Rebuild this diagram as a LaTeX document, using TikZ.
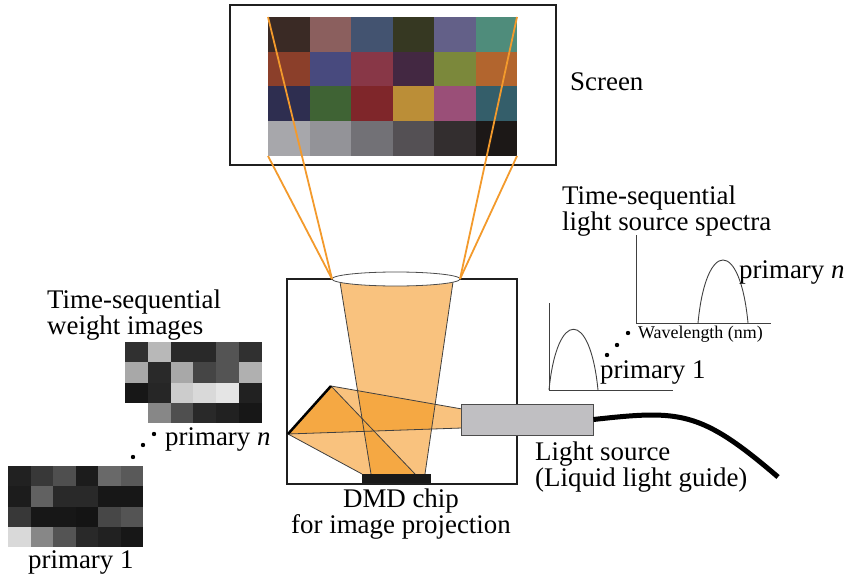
\documentclass[tikz,border=0pt]{standalone}
\usepackage{fontspec}
\setmainfont{Liberation Serif}
\usetikzlibrary{positioning,calc}

\definecolor{beamlight}{HTML}{F9C27E}
\definecolor{beamdark}{HTML}{F5A843}
\definecolor{rayorange}{HTML}{F39A2C}
\definecolor{guidegray}{HTML}{C0BFC2}

\begin{document}
\begin{tikzpicture}[x=1bp, y=-1bp,
    frame/.style={draw=black!88, line width=2.2bp},
    ray/.style={rayorange, line width=1.8bp},
    edge/.style={draw=black!75, line width=0.8bp},
    axis/.style={black!75, line width=0.9bp},
    txt/.style={inner sep=0pt, font=\fontsize{27}{24}\selectfont, align=left},
    small/.style={inner sep=0pt, font=\fontsize{18}{20}\selectfont}]
\useasboundingbox (0,0) rectangle (851,576);

% screen and the colour chart projected on it
\draw[frame] (230,5) rectangle (556,165);
\foreach \rowcols [count=\j from 0] in {
    {3A2A25,8B5F5E,435370,363822,636088,4F8C7B},
    {8B3F2A,484A7E,883747,432842,7B883B,B2652E},
    {2E2E50,3F6334,7F262A,BB8E37,9A4F78,345E6A},
    {A7A7AB,939398,727176,545054,332E2F,1C1817}}
  \foreach \c [count=\i from 0] in \rowcols {
    \definecolor{patch}{HTML}{\c}
    \fill[patch] (268+41.5*\i,17+34.75*\j) rectangle ++(41.5,34.75);
  }
\coordinate (chartNW) at (268,17);
\coordinate (chartSW) at (268,156);
\coordinate (chartNE) at (517,17);
\coordinate (chartSE) at (517,156);

% projector housing
\draw[frame] (287,279) rectangle (517,484);
\coordinate (lensW) at (332,279);
\coordinate (lensE) at (460,279);

% light paths
\coordinate (mirA) at (288,434);
\coordinate (mirB) at (331,386);
\coordinate (srcT) at (462,409);
\coordinate (srcB) at (462,428);
\coordinate (coneTL) at (340,282);
\coordinate (coneTR) at (453,282);
\coordinate (coneBR) at (425,474);
\coordinate (coneBL) at (371,474);
\coordinate (refL) at (362,474);
\coordinate (refR) at (415,474);

\fill[beamlight] (coneTL) -- (coneTR) -- (coneBR) -- (coneBL) -- cycle;
\fill[beamlight] (mirB) -- (srcT) -- (srcB) -- (mirA) -- cycle;
\fill[beamlight] (mirA) -- (mirB) -- (refR) -- (refL) -- cycle;
\begin{scope}
  \clip (coneTL) -- (coneTR) -- (coneBR) -- (coneBL) -- cycle;
  \fill[beamdark] (mirB) -- (srcT) -- (srcB) -- (mirA) -- cycle;
  \fill[beamdark] (mirA) -- (mirB) -- (refR) -- (refL) -- cycle;
\end{scope}
\begin{scope}
  \clip (mirB) -- (srcT) -- (srcB) -- (mirA) -- cycle;
  \fill[beamdark] (mirA) -- (mirB) -- (refR) -- (refL) -- cycle;
\end{scope}
\draw[edge] (coneTL) -- (coneBL) (coneTR) -- (coneBR);
\draw[edge] (srcT) -- (mirB) (srcB) -- (mirA);
\draw[edge] (mirA) -- (refL) (mirB) -- (refR);
\draw[line width=2.5bp] (mirA) -- (mirB);

\node[fill=black!90, minimum width=69bp, minimum height=9bp, inner sep=0pt] (chip) at (396.5,478.5) {};
\draw[fill=white, draw=black!70, line width=0.8bp] (396,279) ellipse [x radius=64, y radius=7];

\draw[ray] (chartNW) -- (lensW);
\draw[ray] (chartSW) -- (lensW);
\draw[ray] (chartNE) -- (lensE);
\draw[ray] (chartSE) -- (lensE);

% light source and guide
\node[draw=black!70, fill=guidegray, line width=0.8bp, minimum width=132bp, minimum height=31bp, inner sep=0pt] (source) at (527,419.5) {};
\draw[line width=5bp] (source.east) .. controls (680,410) and (700,410) .. (778,477);

% spectra
\draw[axis] (636,235) -- (636,323) -- (771,323);
\draw[axis] (698,323) .. controls (706,239) and (740,239) .. (748,323);
\draw[axis] (549,303) -- (549,390) -- (673,390);
\draw[axis] (549,390) .. controls (557,309) and (590,309) .. (598,390);
\foreach \p in {(607,355),(617,345),(628,333)}
  \fill \p circle (2.2);

% weight images
\foreach \rowvals [count=\j from 0] in {
    {19,72,16,16,33,19},
    {66,16,66,27,33,69},
    {9,15,80,85,90,13},
    {100,53,31,16,13,9}}
  \foreach \g [count=\i from 0] in \rowvals
    \fill[white!\g!black] (125+22.83*\i,342+20.25*\j) rectangle ++(22.83,20.25);
\foreach \rowvals [count=\j from 0] in {
    {13,22,31,11,41,35},
    {11,38,16,16,9,9},
    {22,9,9,8,28,33},
    {85,53,33,16,13,9}}
  \foreach \g [count=\i from 0] in \rowvals
    \fill[white!\g!black] (8+22.5*\i,466+20.25*\j) rectangle ++(22.5,20.25);
\foreach \p in {(133,457),(143,445),(154,434)}
  \fill \p circle (2.2);

% labels
\node[txt, anchor=base west] (screenlabel) at (570,91) {Screen};
\node[txt, anchor=north west] (spectitle) at (562,186) {Time-sequential\\light source spectra};
\node[txt, anchor=base west] (specn) at (739,278) {primary \textit{n}};
\node[small, anchor=base west] (wavelabel) at (638,338) {Wavelength (nm)};
\node[txt, anchor=base west] (spec1) at (600,378) {primary 1};
\node[txt, anchor=north west] (weighttitle) at (47,290) {Time-sequential\\weight images};
\node[txt, anchor=base west] (weightn) at (165,445) {primary \textit{n}};
\node[txt, anchor=base west] (weight1) at (28,568) {primary 1};
\node[txt, align=center, anchor=north] (chiplabel) at (401,489) {DMD chip\\for image projection};
\node[txt, anchor=north west] (sourcelabel) at (535,442) {Light source\\(Liquid light guide)};
\end{tikzpicture}
\end{document}
